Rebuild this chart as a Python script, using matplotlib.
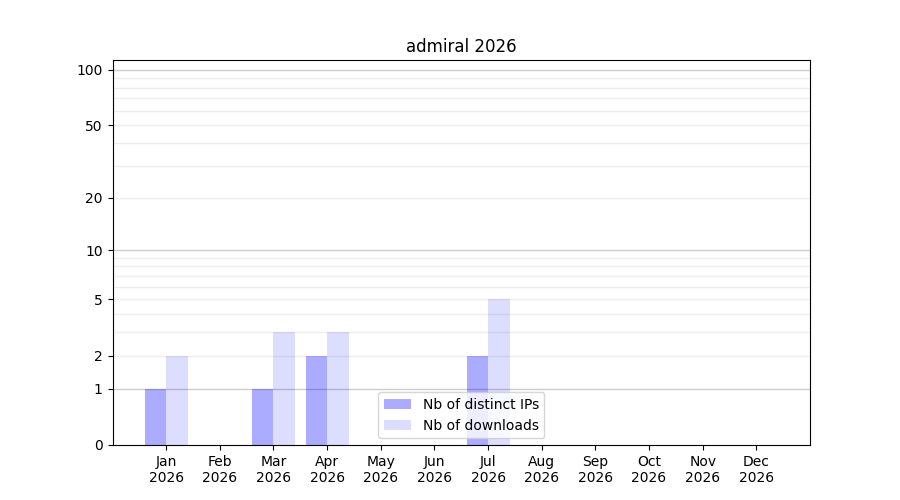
import numpy as np
import matplotlib
matplotlib.use("Agg")
import matplotlib.pyplot as plt
from matplotlib.ticker import FixedLocator, FixedFormatter

months = ["Jan", "Feb", "Mar", "Apr", "May", "Jun", "Jul", "Aug", "Sep", "Oct", "Nov", "Dec"]
year = "2026"
distinct_ips = [1, 0, 1, 2, 0, 0, 2, 0, 0, 0, 0, 0]
downloads = [2, 0, 3, 3, 0, 0, 5, 0, 0, 0, 0, 0]
ytick_values = [0, 1, 2, 5, 10, 20, 50, 100]
title = "admiral 2026"


def fwd(y):
    return np.log10(1 + np.clip(y, 0, None))


def inv(x):
    return 10 ** np.asarray(x) - 1


fig, ax = plt.subplots(figsize=(9, 5), dpi=100)
x = np.arange(1, len(months) + 1)
w = 0.4
ax.bar(x - w / 2, distinct_ips, w, color="blue", alpha=0.33, label="Nb of distinct IPs", zorder=2)
ax.bar(x + w / 2, downloads, w, color="blue", alpha=0.135, label="Nb of downloads", zorder=2)

ax.set_yscale("function", functions=(fwd, inv))
ax.set_ylim(0, 113)
ax.set_xlim(0, 13)

ax.yaxis.set_major_locator(FixedLocator(ytick_values))
ax.yaxis.set_major_formatter(FixedFormatter([str(v) for v in ytick_values]))
minor = [v for v in list(range(2, 10)) + list(range(20, 100, 10))]
ax.yaxis.set_minor_locator(FixedLocator(minor))
ax.tick_params(axis="y", which="minor", length=0)

for v in [1, 10, 100]:
    ax.axhline(v, color="#cccccc", linewidth=1, zorder=1)
for v in minor:
    ax.axhline(v, color="#eeeeee", linewidth=1, zorder=1)

ax.set_xticks(x)
ax.set_xticklabels([f"{m}\n{year}" for m in months])
ax.set_title(title)
ax.legend(loc="lower center")

fig.savefig("out.png")
